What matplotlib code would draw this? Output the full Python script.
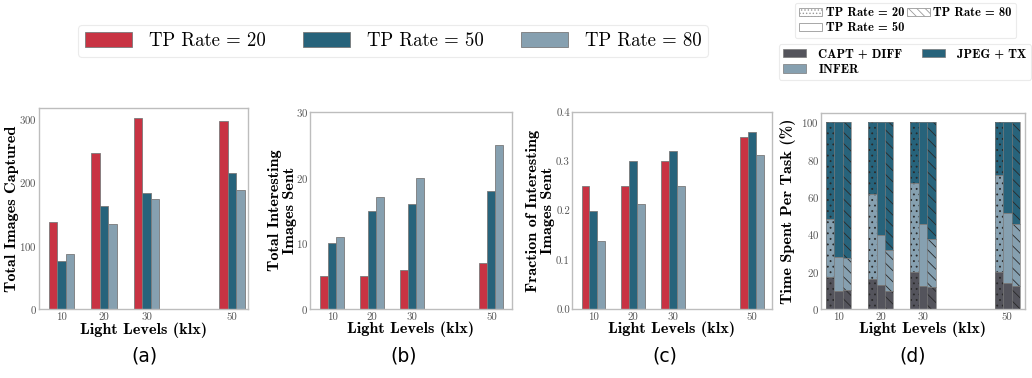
import matplotlib
matplotlib.use("Agg")
import matplotlib.pyplot as plt
from matplotlib.patches import Patch
import numpy as np

plt.rcParams['font.family'] = 'cmr10'
plt.rcParams['axes.formatter.use_mathtext'] = True
plt.rcParams['hatch.linewidth'] = 0.6

# ---------------- data ----------------
light_levels = [10, 20, 30, 50]
tp_labels = ['TP Rate = 20', 'TP Rate = 50', 'TP Rate = 80']

images_captured_20 = [138, 246, 302, 297]
images_captured_50 = [75, 163, 183, 215]
images_captured_80 = [86, 134, 173, 188]

interesting_sent_20 = [5, 5, 6, 7]
interesting_sent_50 = [10, 15, 16, 18]
interesting_sent_80 = [11, 17, 20, 25]

fraction_sent_20 = [0.25, 0.25, 0.30, 0.35]
fraction_sent_50 = [0.20, 0.30, 0.32, 0.36]
fraction_sent_80 = [0.1375, 0.2125, 0.25, 0.3125]

# time spent per task (%) : CAPT+DIFF, INFER, JPEG+TX
capt_20 = [17.3, 16.2, 20.0, 19.6]
infer_20 = [31.0, 45.3, 47.6, 52.4]
jpeg_20 = [51.7, 38.5, 32.4, 28.0]

capt_50 = [9.4, 12.8, 12.1, 13.9]
infer_50 = [18.2, 26.6, 33.2, 37.3]
jpeg_50 = [72.4, 60.6, 54.7, 48.8]

capt_80 = [10.3, 9.6, 11.6, 12.3]
infer_80 = [16.8, 22.1, 26.0, 33.0]
jpeg_80 = [72.9, 68.3, 62.4, 54.7]

task_labels = ['CAPT + DIFF', 'JPEG + TX', 'INFER']

# ---------------- style ----------------
RED = '#C83343'
BLUE = '#27637B'
GRAY = '#86A0B0'
DARK = '#54545C'
EDGE = '#7a7a7a'
SPINE = '#bdbdbd'
TICKC = '#555555'
LABEL_FS = 11.7

W, H = 1032, 378
fig = plt.figure(figsize=(W / 100, H / 100), dpi=100)

def ax_at(l, t, r, b):
    return fig.add_axes([l / W, 1 - b / H, (r - l) / W, (b - t) / H])

axes = [ax_at(39, 108, 248, 309), ax_at(310, 112, 512, 309),
        ax_at(572, 112, 772, 309), ax_at(821, 113, 1025, 309)]
ylabel_x = [-0.096, -0.066, -0.085, -0.125]

x = np.array(light_levels, dtype=float)
bw = 2.0
offsets = [-bw, 0, bw]
cols = [RED, BLUE, GRAY]

def style(ax):
    for s in ax.spines.values():
        s.set_color(SPINE)
        s.set_linewidth(1.0)
    ax.tick_params(axis='y', length=0, labelsize=7.8, labelcolor=TICKC, pad=1.5)
    ax.tick_params(axis='x', length=0, labelsize=7.8, labelcolor=TICKC, pad=2.5)
    ax.set_xticks(light_levels)
    ax.set_xticklabels([str(v) for v in light_levels])
    ax.set_xlabel('Light Levels (klx)', family='cmb10', fontsize=LABEL_FS)
    ax.xaxis.set_label_coords(0.5, -13 / 200)

series_sets = [
    ([images_captured_20, images_captured_50, images_captured_80], 'Total Images Captured', None, [0, 100, 200, 300], (4.7, 53.8)),
    ([interesting_sent_20, interesting_sent_50, interesting_sent_80], 'Total Interesting\nImages Sent', (0, 30), [0, 10, 20, 30], (4.4, 55.2)),
    ([fraction_sent_20, fraction_sent_50, fraction_sent_80], 'Fraction of Interesting\nImages Sent', (0, 0.4), [0.0, 0.1, 0.2, 0.3, 0.4], (4.6, 55.0)),
]

handles = []
for k, (ax, (ss, ylabel, ylim, yt, xl)) in enumerate(zip(axes[:3], series_sets)):
    for i, vals in enumerate(ss):
        b = ax.bar(x + offsets[i], vals, width=bw, color=cols[i], edgecolor=EDGE, linewidth=0.6, label=tp_labels[i])
        if k == 0:
            handles.append(b)
    if ylim:
        ax.set_ylim(*ylim)
    ax.set_yticks(yt)
    if k == 2:
        ax.set_yticklabels(['%.1f' % v for v in yt])
    ax.set_xlim(*xl)
    ax.set_ylabel(ylabel, family='cmb10', fontsize=LABEL_FS, linespacing=1.05)
    ax.yaxis.set_label_coords(ylabel_x[k], 0.5)
    style(ax)

# panel d stacked bars
axd = axes[3]
hatches = ['...', '', '\\\\\\']
stacks = [(capt_20, infer_20, jpeg_20), (capt_50, infer_50, jpeg_50), (capt_80, infer_80, jpeg_80)]
task_cols = [DARK, GRAY, BLUE]
for i, (c, inf, j) in enumerate(stacks):
    c = np.array(c); inf = np.array(inf); j = np.array(j)
    bottoms = [np.zeros_like(c), c, c + inf]
    for seg, bot, col in zip([c, inf, j], bottoms, task_cols):
        axd.bar(x + offsets[i], seg, bottom=bot, width=bw, color=col,
                edgecolor='#2a2a2a', linewidth=0.0, hatch=hatches[i])
        axd.bar(x + offsets[i], seg, bottom=bot, width=bw, fill=False,
                edgecolor=EDGE, linewidth=0.5)
axd.set_ylim(0, 105)
axd.set_yticks([0, 20, 40, 60, 80, 100])
axd.set_xlim(5.8, 54.2)
axd.set_ylabel('Time Spent Per Task (%)', family='cmb10', fontsize=LABEL_FS)
axd.yaxis.set_label_coords(ylabel_x[3], 0.5)
style(axd)

# top legend
leg = fig.legend(handles, tp_labels, loc='center', bbox_to_anchor=(393 / W, 1 - 41 / H),
                 ncol=3, fontsize=13.5, frameon=True, handlelength=2.5, handleheight=0.9,
                 columnspacing=2.0, handletextpad=0.9, borderpad=0.35)
leg.get_frame().set_edgecolor('#e6e6e6')
leg.get_frame().set_linewidth(0.8)

# panel d legends
hp = [Patch(facecolor='white', edgecolor='#999999', hatch='.....', linewidth=0.6),
      Patch(facecolor='white', edgecolor='#999999', hatch='\\\\\\\\', linewidth=0.6),
      Patch(facecolor='white', edgecolor='#999999', linewidth=0.6)]
hl = ['TP Rate = 20', 'TP Rate = 80', 'TP Rate = 50']
leg1 = fig.legend([hp[0], hp[2], hp[1]], [hl[0], hl[2], hl[1]], loc='center',
                  bbox_to_anchor=(905.5 / W, 1 - 20.5 / H), ncol=2, prop={'family': 'cmb10', 'size': 9},
                  handlelength=1.8, handleheight=0.6, handletextpad=0.3, columnspacing=0.25,
                  borderpad=0.35, labelspacing=0.25)
leg1.get_frame().set_edgecolor('#e6e6e6')
leg1.get_frame().set_linewidth(0.8)

tp = [Patch(facecolor=DARK, edgecolor=EDGE, linewidth=0.5),
      Patch(facecolor=GRAY, edgecolor=EDGE, linewidth=0.5),
      Patch(facecolor=BLUE, edgecolor=EDGE, linewidth=0.5)]
leg2 = fig.legend([tp[0], tp[1], tp[2]], [task_labels[0], task_labels[2], task_labels[1]], loc='center',
                  bbox_to_anchor=(905 / W, 1 - 62 / H), ncol=2, prop={'family': 'cmb10', 'size': 9},
                  handlelength=1.8, handleheight=0.7, handletextpad=1.0, columnspacing=1.6,
                  borderpad=0.35, labelspacing=0.25)
leg2.get_frame().set_edgecolor('#e6e6e6')
leg2.get_frame().set_linewidth(0.8)

# subtitles
for lbl, xc in zip(['(a)', '(b)', '(c)', '(d)'], [144, 404, 665, 913]):
    fig.text(xc / W, 1 - 356 / H, lbl, ha='center', va='center', fontsize=13.5, family='DejaVu Sans')

fig.savefig('out.png', dpi=100)
